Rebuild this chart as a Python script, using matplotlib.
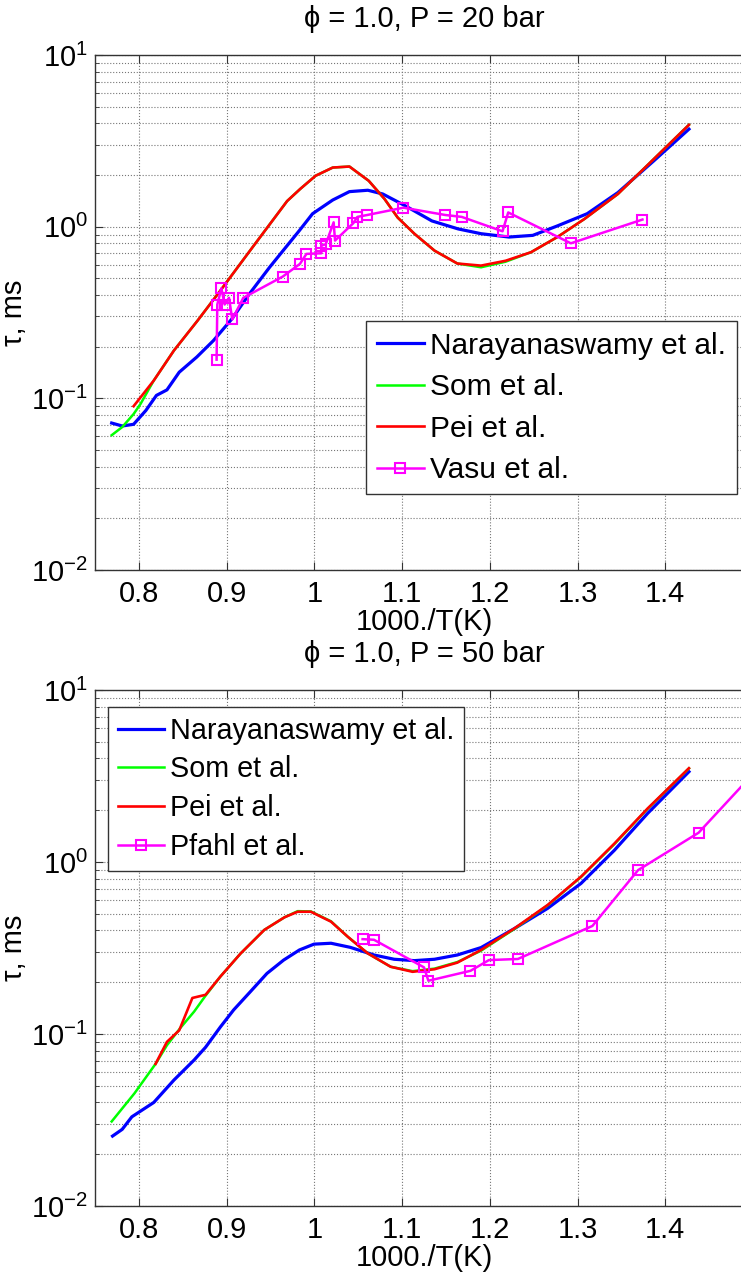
import matplotlib
matplotlib.use("Agg")
import matplotlib.pyplot as plt
from matplotlib.ticker import LogLocator, NullFormatter, FixedLocator

plt.rcParams['font.family'] = ['Liberation Sans', 'DejaVu Sans']
plt.rcParams['mathtext.default'] = 'regular'

# ---------------- Top panel: phi = 1.0, P = 20 bar ----------------
top_nar_x = [0.769, 0.781, 0.794, 0.808, 0.820, 0.832, 0.846, 0.866, 0.885, 0.906, 0.926, 0.949,
             0.983, 0.998, 1.021, 1.040, 1.061, 1.078, 1.104, 1.134, 1.164, 1.190, 1.222, 1.249,
             1.277, 1.311, 1.346, 1.387, 1.427]
top_nar_y = [0.0718, 0.069, 0.0706, 0.085, 0.104, 0.112, 0.142, 0.174, 0.217, 0.29, 0.406, 0.58,
             0.95, 1.19, 1.43, 1.60, 1.63, 1.55, 1.32, 1.08, 0.97, 0.91, 0.87, 0.89,
             1.01, 1.19, 1.58, 2.42, 3.70]

top_som_x = [0.769, 0.781, 0.794, 0.802, 0.817, 0.840, 0.867, 0.893, 0.931, 0.969, 0.984, 1.0015,
             1.021, 1.040, 1.062, 1.080, 1.095, 1.114, 1.137, 1.163, 1.190, 1.218, 1.247, 1.277,
             1.308, 1.346, 1.387, 1.427]
top_som_y = [0.061, 0.068, 0.081, 0.093, 0.127, 0.19, 0.284, 0.425, 0.776, 1.41, 1.66, 1.98,
             2.21, 2.24, 1.85, 1.45, 1.13, 0.91, 0.725, 0.61, 0.58, 0.625, 0.71, 0.87,
             1.11, 1.55, 2.48, 3.92]

top_pei_x = [0.794, 0.817, 0.840, 0.867, 0.893, 0.931, 0.969, 0.984, 1.0015, 1.021, 1.040, 1.062,
             1.080, 1.095, 1.114, 1.137, 1.163, 1.190, 1.218, 1.247, 1.277, 1.308, 1.346, 1.387, 1.427]
top_pei_y = [0.090, 0.127, 0.19, 0.284, 0.425, 0.776, 1.41, 1.66, 1.98, 2.21, 2.24, 1.85,
             1.45, 1.13, 0.91, 0.725, 0.61, 0.593, 0.633, 0.71, 0.87, 1.11, 1.55, 2.48, 3.92]

vasu_x = [0.8886, 0.8894, 0.894, 0.8978, 0.9027, 0.9065, 0.919, 0.964, 0.9836, 0.991, 1.008, 1.008,
          1.013, 1.022, 1.0236, 1.0446, 1.049, 1.0605, 1.1016, 1.149, 1.168, 1.2145, 1.221, 1.2924, 1.374]
vasu_y = [0.168, 0.352, 0.437, 0.352, 0.385, 0.288, 0.385, 0.512, 0.607, 0.694, 0.70, 0.776,
          0.79, 1.06, 0.83, 1.05, 1.14, 1.17, 1.29, 1.17, 1.14, 0.94, 1.21, 0.80, 1.10]

# ---------------- Bottom panel: phi = 1.0, P = 50 bar ----------------
bot_nar_x = [0.770, 0.781, 0.792, 0.817, 0.840, 0.863, 0.876, 0.893, 0.908, 0.927, 0.946, 0.965,
             0.983, 0.9996, 1.019, 1.041, 1.068, 1.091, 1.114, 1.137, 1.163, 1.190, 1.228, 1.266,
             1.304, 1.342, 1.380, 1.427]
bot_nar_y = [0.0255, 0.0279, 0.033, 0.040, 0.054, 0.0706, 0.0837, 0.110, 0.138, 0.176, 0.225, 0.269,
             0.308, 0.333, 0.337, 0.319, 0.288, 0.272, 0.267, 0.272, 0.288, 0.318, 0.41, 0.538,
             0.751, 1.17, 1.92, 3.35]

bot_som_x = [0.769, 0.795, 0.819, 0.832, 0.847, 0.863, 0.876, 0.893, 0.916, 0.943, 0.966, 0.981,
             0.996, 1.019, 1.038, 1.061, 1.087, 1.112, 1.137, 1.163, 1.190, 1.228, 1.266, 1.304,
             1.342, 1.380, 1.427]
bot_som_y = [0.031, 0.0452, 0.067, 0.086, 0.108, 0.135, 0.167, 0.216, 0.294, 0.403, 0.477, 0.518,
             0.516, 0.452, 0.368, 0.294, 0.246, 0.232, 0.240, 0.262, 0.305, 0.408, 0.560, 0.818,
             1.27, 2.04, 3.50]

bot_pei_x = [0.819, 0.832, 0.846, 0.861, 0.876, 0.893, 0.916, 0.943, 0.966, 0.981, 0.996, 1.019,
             1.038, 1.061, 1.087, 1.112, 1.137, 1.163, 1.190, 1.228, 1.266, 1.304, 1.342, 1.380, 1.427]
bot_pei_y = [0.067, 0.090, 0.105, 0.162, 0.169, 0.216, 0.294, 0.403, 0.477, 0.514, 0.514, 0.45,
             0.368, 0.294, 0.246, 0.230, 0.238, 0.26, 0.308, 0.411, 0.563, 0.822, 1.28, 2.05, 3.51]

pfahl_x = [1.055, 1.068, 1.125, 1.130, 1.178, 1.199, 1.232, 1.317, 1.369, 1.438, 1.500]
pfahl_y = [0.356, 0.353, 0.244, 0.204, 0.233, 0.269, 0.273, 0.425, 0.897, 1.48, 3.25]

titles = ["\u03d5 = 1.0, P = 20 bar", "\u03d5 = 1.0, P = 50 bar"]
xticks = [0.8, 0.9, 1.0, 1.1, 1.2, 1.3, 1.4]
xticklabels = ["0.8", "0.9", "1", "1.1", "1.2", "1.3", "1.4"]

FS = 21
W, H = 741, 1274
fig = plt.figure(figsize=(W / 100, H / 100), dpi=100)

ax_w = 658 / W
left = 95 / W
ax1 = fig.add_axes([left, 1 - 570 / H, ax_w, 515 / H])
ax2 = fig.add_axes([left, 1 - 1206 / H, ax_w, 516 / H])

blue, green, red, mag = '#0000ff', '#00ff00', '#ff0000', '#ff00ff'


def style(ax, title):
    ax.set_yscale('log')
    ax.set_xlim(0.75, 1.5)
    ax.set_ylim(0.01, 10)
    ax.xaxis.set_major_locator(FixedLocator(xticks))
    ax.set_xticklabels(xticklabels)
    ax.yaxis.set_major_locator(LogLocator(base=10, numticks=10))
    ax.yaxis.set_minor_locator(LogLocator(base=10, subs=range(2, 10), numticks=20))
    ax.yaxis.set_minor_formatter(NullFormatter())
    ax.tick_params(axis='both', which='both', direction='in', top=True, right=True,
                   labelsize=FS, color='#333333')
    ax.tick_params(axis='both', which='major', length=6, width=0.8)
    ax.tick_params(axis='y', which='minor', length=3, width=0.6)
    ax.tick_params(axis='x', pad=7)
    ax.tick_params(axis='y', pad=5)
    ax.grid(True, which='major', axis='both', linestyle=':', color='#777777', linewidth=0.8)
    ax.grid(True, which='minor', axis='y', linestyle=':', color='#777777', linewidth=0.8)
    for s in ax.spines.values():
        s.set_color('#333333')
        s.set_linewidth(1.0)
    ax.set_xlabel('1000./T(K)', fontsize=FS, labelpad=0)
    ax.set_ylabel('\u03c4, ms', fontsize=FS, labelpad=2)
    ax.set_title(title, fontsize=FS, pad=20)


def legend(ax, anchor, fs, spacing):
    leg = ax.legend(loc='upper left', bbox_to_anchor=anchor, fontsize=fs,
                    frameon=True, fancybox=False, framealpha=1, edgecolor='#333333',
                    handlelength=1.6, handletextpad=0.2, borderpad=0.35, labelspacing=spacing,
                    borderaxespad=0)
    leg.get_frame().set_linewidth(1.0)
    return leg


# top
ax1.plot(top_nar_x, top_nar_y, color=blue, lw=2.3, label='Narayanaswamy et al.')
ax1.plot(top_som_x, top_som_y, color=green, lw=1.8, label='Som et al.')
ax1.plot(top_pei_x, top_pei_y, color=red, lw=1.9, label='Pei et al.')
ax1.plot(vasu_x, vasu_y, color=mag, lw=1.8, marker='s', ms=7, mfc='none', mew=1.5,
         label='Vasu et al.')
style(ax1, titles[0])
legend(ax1, (0.412, 0.483), 21.5, 0.45)

# bottom
ax2.plot(bot_nar_x, bot_nar_y, color=blue, lw=2.3, label='Narayanaswamy et al.')
ax2.plot(bot_som_x, bot_som_y, color=green, lw=1.8, label='Som et al.')
ax2.plot(bot_pei_x, bot_pei_y, color=red, lw=1.9, label='Pei et al.')
ax2.plot(pfahl_x, pfahl_y, color=mag, lw=1.8, marker='s', ms=7, mfc='none', mew=1.5,
         label='Pfahl et al.')
style(ax2, titles[1])
legend(ax2, (0.02, 0.968), 20.7, 0.38)

fig.savefig('out.png', dpi=100)
